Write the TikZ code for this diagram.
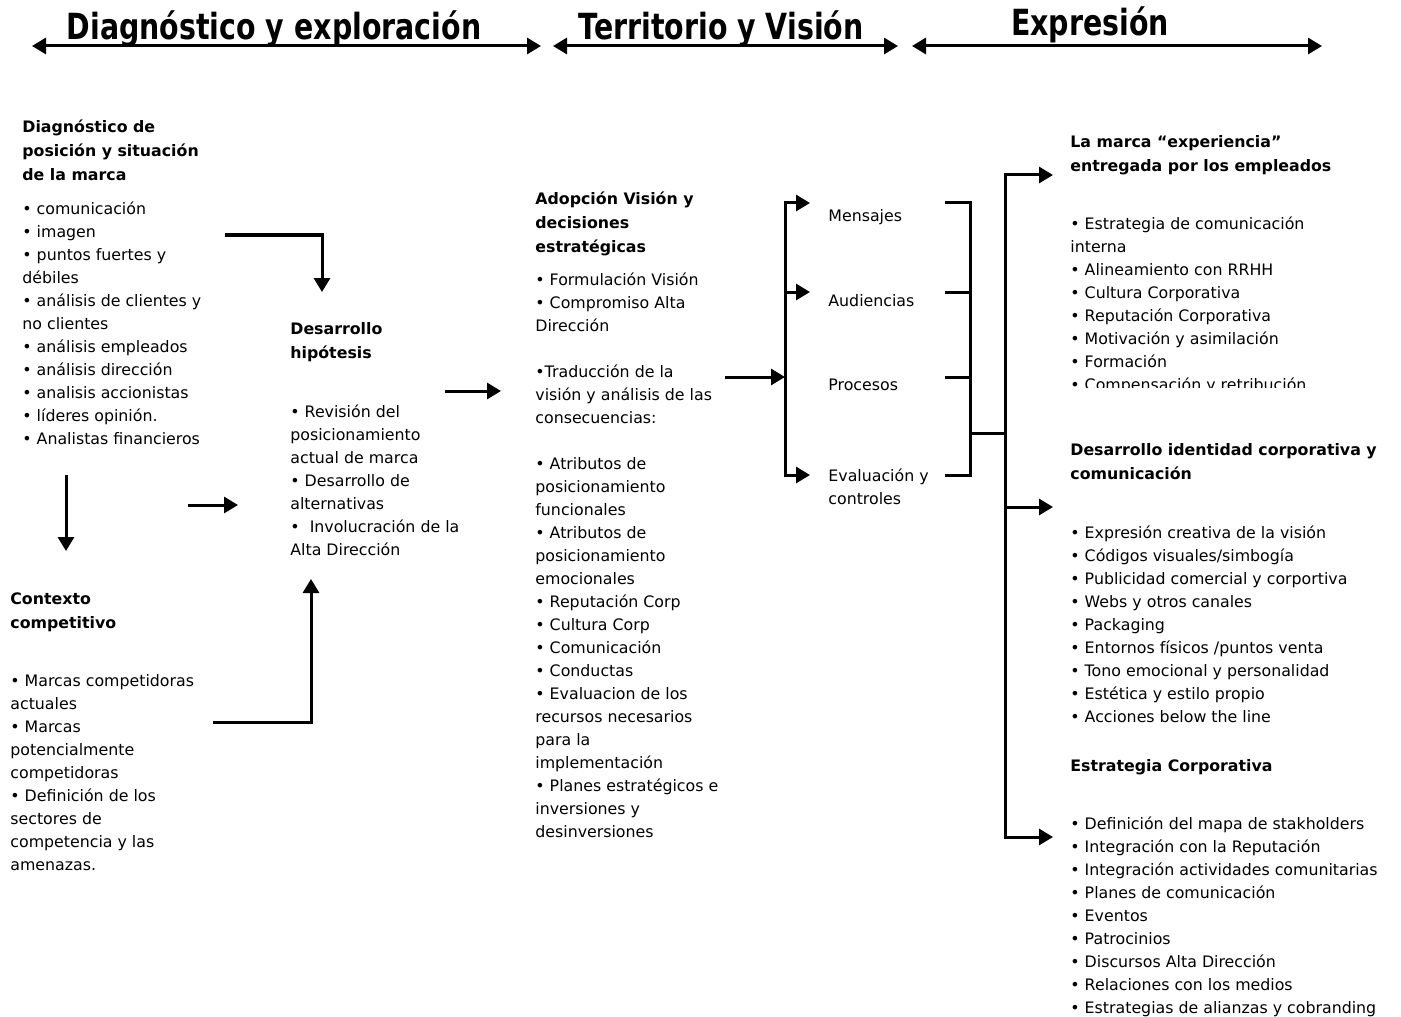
\documentclass[tikz,border=0pt]{standalone}
\usepackage{fontspec}
\setmainfont{DejaVu Sans}
\newfontfamily\headfont{DejaVu Sans}[FakeStretch=0.79]
\usetikzlibrary{arrows.meta}

\begin{document}
\begin{tikzpicture}[x=0.5pt,y=-0.5pt,
    line/.style={line width=1.5pt},
    arr/.style={line,-{Triangle[length=7pt,width=8pt]}},
    twoarr/.style={line,{Triangle[length=7pt,width=8pt]}-{Triangle[length=7pt,width=8pt]}},
    txt/.style={anchor=north west,inner sep=0pt,align=left,font=\fontsize{7.9}{11.5}\selectfont},
    ttl/.style={anchor=north west,inner sep=0pt,align=left,font=\fontsize{7.9}{12}\selectfont\bfseries},
    head/.style={anchor=base,inner sep=0pt,font=\headfont\bfseries\fontsize{18}{20}\selectfont}]
  \useasboundingbox (0,0) rectangle (1401,1016);

  % cabeceras
  \node[head] (h1) at (274,40) {Diagnóstico y exploración};
  \node[head] (h2) at (721,40) {Territorio y Visión};
  \node[head] (h3) at (1090,36) {Expresión};
  \coordinate (a1) at (32,46);  \coordinate (a2) at (541,46);
  \coordinate (a3) at (553,46); \coordinate (a4) at (898,46);
  \coordinate (a5) at (912,46); \coordinate (a6) at (1322,46);
  \draw[twoarr] (a1) -- (a2);
  \draw[twoarr] (a3) -- (a4);
  \draw[twoarr] (a5) -- (a6);

  % diagnostico
  \node[ttl] (diag) at (22,119) {Diagnóstico de\\posición y situación\\de la marca};
  \node[txt] (diagl) at (22,201) {• comunicación\\• imagen\\• puntos fuertes y\\débiles\\• análisis de clientes y\\no clientes\\• análisis empleados\\• análisis dirección\\• analisis accionistas\\• líderes opinión.\\• Analistas financieros};
  \node[ttl] (ctx) at (10,592) {Contexto\\competitivo};
  \node[txt] (ctxl) at (10,674) {• Marcas competidoras\\actuales\\• Marcas\\potencialmente\\competidoras\\• Definición de los\\sectores de\\competencia y las\\amenazas.};
  \node[ttl] (hip) at (290,322) {Desarrollo\\hipótesis};
  \node[txt] (hipl) at (290,404) {• Revisión del\\posicionamiento\\actual de marca\\• Desarrollo de\\alternativas\\•\ \ Involucración de la\\Alta Dirección};

  \coordinate (d1) at (225,235); \coordinate (d2) at (322,292);
  \coordinate (c1) at (66,475);  \coordinate (c2) at (66,551);
  \coordinate (e1) at (188,505); \coordinate (e2) at (238,505);
  \coordinate (f1) at (213,722); \coordinate (f2) at (311,579);
  \coordinate (g1) at (445,391); \coordinate (g2) at (501,391);
  \draw[arr] (d1) -| (d2);
  \draw[arr] (c1) -- (c2);
  \draw[arr] (e1) -- (e2);
  \draw[arr] (f1) -| (f2);
  \draw[arr] (g1) -- (g2);

  % territorio y vision
  \node[ttl] (adop) at (535,191) {Adopción Visión y\\decisiones\\estratégicas};
  \node[txt] (adopl) at (535,272) {• Formulación Visión\\• Compromiso Alta\\Dirección\\[11.5pt]•Traducción de la\\visión y análisis de las\\consecuencias:\\[11.5pt]• Atributos de\\posicionamiento\\funcionales\\• Atributos de\\posicionamiento\\emocionales\\• Reputación Corp\\• Cultura Corp\\• Comunicación\\• Conductas\\• Evaluacion de los\\recursos necesarios\\para la\\implementación\\• Planes estratégicos e\\inversiones y\\desinversiones};

  \node[txt] (men) at (828,209) {Mensajes};
  \node[txt] (aud) at (828,294) {Audiencias};
  \node[txt] (pro) at (828,379) {Procesos};
  \node[txt] (eva) at (828,468) {Evaluación y\\controles};

  \foreach \y [count=\i] in {203,292,377,475}{
    \coordinate (p\i) at (785,\y);
    \coordinate (q\i) at (810,\y);
    \coordinate (r\i) at (945,\y);
    \coordinate (s\i) at (970,\y);
  }
  \coordinate (k1) at (725,377);
  \draw[arr] (k1) -- (p3);
  \draw[twoarr] (q1) -- (p1) -- (p4) -- (q4);
  \draw[arr] (p2) -- (q2);
  \draw[line] (r1) -- (s1) -- (s4) -- (r4);
  \draw[line] (r2) -- (s2) (r3) -- (s3);

  % expresion
  \coordinate (t0) at (970,433); \coordinate (u0) at (1005,433);
  \coordinate (u1) at (1005,175); \coordinate (v1) at (1053,175);
  \coordinate (u2) at (1005,507); \coordinate (v2) at (1053,507);
  \coordinate (u3) at (1005,837); \coordinate (v3) at (1053,837);
  \draw[line] (t0) -- (u0);
  \draw[twoarr] (v1) -- (u1) -- (u3) -- (v3);
  \draw[arr] (u2) -- (v2);

  \node[ttl] (emp) at (1070,135) {La marca “experiencia”\\entregada por los empleados};
  \begin{scope}
    \clip (1060,200) rectangle (1401,387);
    \node[txt] (empl) at (1070,216) {• Estrategia de comunicación\\interna\\• Alineamiento con RRHH\\• Cultura Corporativa\\• Reputación Corporativa\\• Motivación y asimilación\\• Formación\\• Compensación y retribución};
  \end{scope}
  \node[ttl] (ide) at (1070,443) {Desarrollo identidad corporativa y\\comunicación};
  \node[txt] (idel) at (1070,525) {• Expresión creativa de la visión\\• Códigos visuales/simbogía\\• Publicidad comercial y corportiva\\• Webs y otros canales\\• Packaging\\• Entornos físicos /puntos venta\\• Tono emocional y personalidad\\• Estética y estilo propio\\• Acciones below the line};
  \node[ttl] (est) at (1070,759) {Estrategia Corporativa};
  \node[txt] (estl) at (1070,816) {• Definición del mapa de stakholders\\• Integración con la Reputación\\• Integración actividades comunitarias\\• Planes de comunicación\\• Eventos\\• Patrocinios\\• Discursos Alta Dirección\\• Relaciones con los medios\\• Estrategias de alianzas y cobranding};
\end{tikzpicture}
\end{document}
